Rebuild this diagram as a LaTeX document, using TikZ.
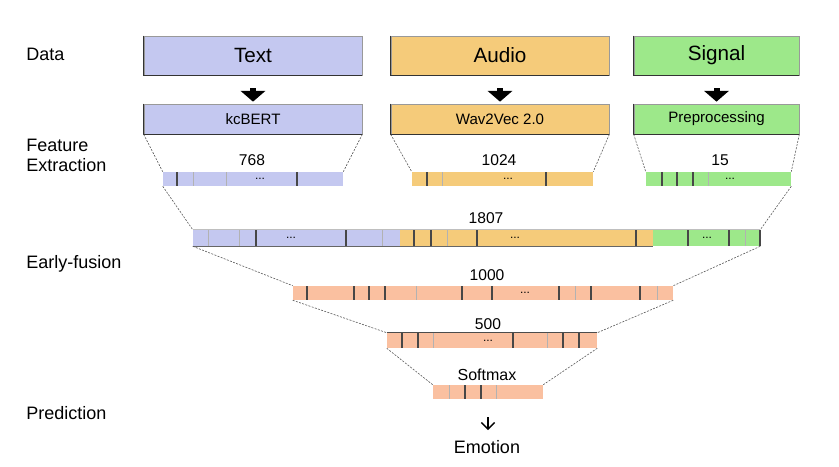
\documentclass[tikz,border=0pt]{standalone}
\usepackage{fontspec}
\setmainfont{Liberation Sans}
\usetikzlibrary{arrows.meta}
\definecolor{cblue}{RGB}{196,200,240}
\definecolor{corange}{RGB}{245,203,122}
\definecolor{cgreen}{RGB}{157,232,138}
\definecolor{csalmon}{RGB}{250,192,160}
\begin{document}
\begin{tikzpicture}[x=0.75pt,y=-0.75pt,
  bigbox/.style={rectangle, draw=black!40, line width=0.5pt, inner sep=0pt, minimum width={218*0.75pt}, minimum height={39*0.75pt}, font=\fontsize{15.5}{18}\selectfont},
  subbox/.style={rectangle, draw=black!40, line width=0.5pt, inner sep=0pt, minimum width={218*0.75pt}, minimum height={30*0.75pt}, font=\fontsize{11.3}{13}\selectfont},
  vec/.style={rectangle, inner sep=0pt, minimum height={14*0.75pt}},
  num/.style={font=\fontsize{11.7}{14}\selectfont, inner sep=0pt},
  side/.style={font=\fontsize{13.5}{15}\selectfont, anchor=west, inner sep=0pt, align=left},
  dk/.style={black!72, line width=0.85pt},
  lt/.style={black!30, line width=0.55pt},
  edge/.style={black!80, line width=0.9pt},
  funnel/.style={black!65, line width=0.45pt, dash pattern=on 1.5pt off 1pt},
  bigarrow/.style={line width=4.5pt, -{Triangle[width=18pt,length=8pt]}},
  dots/.style={font=\fontsize{9}{10}\selectfont, inner sep=0pt}]
\useasboundingbox (0,0) rectangle (839,467);

% side labels
\node[side] (lData) at (26,54) {Data};
\node[side] (lFeat) at (26,155) {Feature\\Extraction};
\node[side] (lFus) at (26,264) {Early-fusion};
\node[side] (lPred) at (26,413) {Prediction};

% data boxes
\node[bigbox, fill=cblue] (tText) at (253,55.5) {Text};
\node[bigbox, fill=corange] (tAudio) at (500,55.5) {Audio};
\node[bigbox, fill=cgreen, minimum width={165*0.75pt}] (tSignal) at (716.5,55.5) {Signal};
\node[subbox, fill=cblue] (kc) at (253,119) {kcBERT};
\node[subbox, fill=corange] (wav) at (500,119) {Wav2Vec 2.0};
\node[subbox, fill=cgreen, minimum width={165*0.75pt}] (pre) at (716.5,119) {Preprocessing};
\foreach \n in {tText,tAudio,tSignal,kc,wav,pre}
  \draw[edge] (\n.north west) -- (\n.south west) -- (\n.south east);

% big arrows
\draw[bigarrow, shorten <={13*0.75pt}, shorten >={2*0.75pt}] (tText.south) -- (kc.north);
\draw[bigarrow, shorten <={13*0.75pt}, shorten >={2*0.75pt}] (tAudio.south) -- (wav.north);
\draw[bigarrow, shorten <={13*0.75pt}, shorten >={2*0.75pt}] (tSignal.south) -- (pre.north);

% feature vectors
\node[vec, fill=cblue, minimum width={180*0.75pt}] (v768) at (253,179) {};
\node[vec, fill=corange, minimum width={181*0.75pt}] (v1024) at (502.5,179) {};
\node[vec, fill=cgreen, minimum width={145*0.75pt}] (v15) at (718.5,179) {};
\node[num] (n768) at (252,160) {768};
\node[num] (n1024) at (499,160) {1024};
\node[num] (n15) at (720,160) {15};
\foreach \xx/\st in {177/dk,193/lt,226/lt,297/dk,427/dk,442/lt,546/dk,662/dk,677/dk,693/dk,708/lt}
  \draw[\st] (\xx,172) -- (\xx,186);
\node[dots] at (260,179) {...};
\node[dots] at (508,179) {...};
\node[dots] at (730,179) {...};

% fused vector
\node[vec, fill=cblue, minimum width={207*0.75pt}, minimum height={16*0.75pt}] (fb) at (296.5,238) {};
\node[vec, fill=corange, minimum width={253*0.75pt}, minimum height={16*0.75pt}] (fo) at (526.5,238) {};
\node[vec, fill=cgreen, minimum width={107*0.75pt}, minimum height={16*0.75pt}] (fg) at (706.5,238) {};
\draw[black!25, line width=0.5pt] (fb.north west) -- (fg.north east);
\draw[black!60, line width=0.8pt] (fb.south west) -- (fo.south east);
\node[num] (n1807) at (486,218) {1807};
\foreach \xx/\st in {208/lt,239/lt,256/dk,346/dk,382/lt,414/dk,431/dk,447/lt,477/dk,636/dk,688/dk,729/dk,745/lt,760/dk}
  \draw[\st] (\xx,230) -- (\xx,246);
\node[dots] at (291,238) {...};
\node[dots] at (515,238) {...};
\node[dots] at (707,238) {...};

% 1000
\node[vec, fill=csalmon, minimum width={380*0.75pt}] (v1000) at (483,293) {};
\node[num] (n1000) at (487,275) {1000};
\foreach \xx/\st in {307/dk,354/dk,369/dk,385/dk,416/lt,462/dk,492/dk,559/dk,575/lt,591/dk,640/dk,657/lt}
  \draw[\st] (\xx,286) -- (\xx,300);
\node[dots] at (525,293) {...};

% 500
\node[vec, fill=csalmon, minimum width={210*0.75pt}, minimum height={15*0.75pt}] (v500) at (492,340.5) {};
\draw[black!70, line width=0.8pt] (v500.north west) -- (v500.north east);
\node[num] (n500) at (488,324) {500};
\foreach \xx/\st in {402/dk,418/dk,433/lt,513/dk,547/lt,563/dk,579/dk}
  \draw[\st] (\xx,333) -- (\xx,348);
\node[dots] at (488,341) {...};

% softmax
\node[vec, fill=csalmon, minimum width={110*0.75pt}] (vs) at (488,392) {};
\node[font=\fontsize{12}{14}\selectfont, inner sep=0pt] (nsoft) at (487,375) {Softmax};
\foreach \xx/\st in {449/lt,465/dk,481/dk,496/lt}
  \draw[\st] (\xx,385) -- (\xx,399);

% emotion
\node[font=\fontsize{13.5}{16}\selectfont, inner sep=0pt] (emo) at (487,447) {Emotion};
\draw[line width=1pt, -{Straight Barb[length=5pt,width=10pt]}, shorten <={18*0.75pt}, shorten >={10*0.75pt}] (vs.south) -- (vs.south |- emo.north);

% funnels
\draw[funnel] (kc.south west) -- (v768.north west);
\draw[funnel] (kc.south east) -- (v768.north east);
\draw[funnel] (wav.south west) -- (v1024.north west);
\draw[funnel] (wav.south east) -- (v1024.north east);
\draw[funnel] (pre.south west) -- (v15.north west);
\draw[funnel] (pre.south east) -- (v15.north east);
\draw[funnel] (v768.south west) -- (fb.north west);
\draw[funnel] (v15.south east) -- (fg.north east);
\draw[funnel] (fb.south west) -- (v1000.north west);
\draw[funnel] (fg.south east) -- (v1000.north east);
\draw[funnel] (v1000.south west) -- (v500.north west);
\draw[funnel] (v1000.south east) -- (v500.north east);
\draw[funnel] (v500.south west) -- (vs.north west);
\draw[funnel] (v500.south east) -- (vs.north east);
\end{tikzpicture}
\end{document}
